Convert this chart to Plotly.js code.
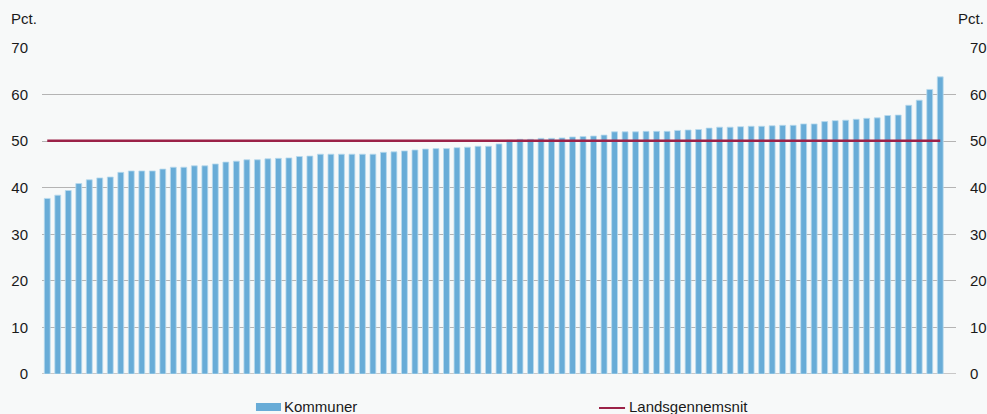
<!DOCTYPE html>
<html>
<head>
<meta charset="utf-8">
<script src="https://cdn.plot.ly/plotly-3.0.1.min.js"></script>
<style>html,body{margin:0;padding:0;background:#f7f9f9;}#chart{width:987px;height:414px;}</style>
</head>
<body>
<div id="chart"></div>
<script>
// Data (sorted municipality shares, pct.)
const kommunerValues = [
  37.7, 38.4, 39.4, 40.9, 41.7, 42.1, 42.3, 43.3, 43.6, 43.6, 43.6, 44.0, 44.4, 44.4, 44.7, 44.7, 45.1, 45.5, 45.7, 46.0, 46.0, 46.2,
  46.3, 46.4, 46.7, 46.8, 47.2, 47.2, 47.2, 47.2, 47.2, 47.2, 47.6, 47.7, 47.9, 48.1, 48.3, 48.4, 48.4, 48.6, 48.7, 48.9, 48.9, 49.4,
  50.2, 50.4, 50.4, 50.6, 50.6, 50.7, 50.9, 51.0, 51.1, 51.3, 52.0, 52.0, 52.0, 52.1, 52.1, 52.1, 52.3, 52.4, 52.5, 52.8, 53.0, 53.0,
  53.1, 53.2, 53.2, 53.3, 53.4, 53.4, 53.7, 53.7, 54.2, 54.4, 54.5, 54.7, 54.9, 55.0, 55.5, 55.6, 57.7, 58.8, 61.1, 63.8
];
const landsgennemsnit = 50.1;
const categories = kommunerValues.map((v, i) => i);
const avgValues = categories.map(() => landsgennemsnit);
const yTicks = [0, 10, 20, 30, 40, 50, 60, 70];
const seriesNames = ["Kommuner", "Landsgennemsnit"];

const barColor = "#68acd7";
const lineColor = "#9b2248";
const font = {family: "Liberation Sans, Arial, sans-serif", size: 15, color: "#1a1a1a"};

const traces = [
  {
    type: "bar", name: seriesNames[0], x: categories, y: kommunerValues,
    marker: {color: barColor, line: {color: "#b9daee", width: 0.8}},
    width: 0.56, showlegend: false, hoverinfo: "y"
  },
  {
    type: "scatter", mode: "lines", name: seriesNames[1], x: categories, y: avgValues,
    line: {color: lineColor, width: 2.5}, showlegend: false, hoverinfo: "y"
  },
  {
    type: "scatter", mode: "lines", x: [categories[0]], y: [landsgennemsnit], yaxis: "y2",
    showlegend: false, hoverinfo: "skip", line: {width: 0}
  }
];

const axisCommon = {
  range: [0, 70], tickvals: yTicks, ticktext: yTicks.map(String),
  showgrid: true, gridcolor: "#b4b4b4", gridwidth: 1,
  zeroline: false, showline: false, ticks: "", ticklen: 0,
  tickfont: font, fixedrange: true
};

const layout = {
  width: 987, height: 414,
  margin: {l: 42, r: 31, t: 48, b: 40, pad: 13},
  paper_bgcolor: "#f7f9f9", plot_bgcolor: "#f7f9f9",
  font: font,
  bargap: 0.45,
  xaxis: {range: [-0.5, 86.5], showticklabels: false, showgrid: false, zeroline: false, ticks: "", showline: false, fixedrange: true},
  yaxis: Object.assign({}, axisCommon, {side: "left"}),
  yaxis2: Object.assign({}, axisCommon, {side: "right", overlaying: "y", showgrid: false}),
  shapes: [
    {type: "line", xref: "paper", yref: "y", x0: 0, x1: 1, y0: 0, y1: 0, line: {color: "#c8c8c8", width: 2}, layer: "below"},
    {type: "rect", xref: "paper", yref: "paper", x0: 0.2341, x1: 0.2615, y0: -0.089, y1: -0.1135, fillcolor: barColor, line: {width: 0}},
    {type: "line", xref: "paper", yref: "paper", x0: 0.6094, x1: 0.6379, y0: -0.1043, y1: -0.1043, line: {color: lineColor, width: 2}}
  ],
  annotations: [
    {text: "Pct.", xref: "paper", yref: "paper", x: -0.036, y: 1.089, xanchor: "left", yanchor: "middle", showarrow: false, font: font},
    {text: "Pct.", xref: "paper", yref: "paper", x: 1.0, y: 1.089, xanchor: "left", yanchor: "middle", showarrow: false, font: font},
    {text: seriesNames[0], xref: "paper", yref: "paper", x: 0.2626, y: -0.099, xanchor: "left", yanchor: "middle", showarrow: false, font: font},
    {text: seriesNames[1], xref: "paper", yref: "paper", x: 0.6396, y: -0.099, xanchor: "left", yanchor: "middle", showarrow: false, font: font}
  ],
  showlegend: false
};

Plotly.newPlot("chart", traces, layout, {displayModeBar: false, staticPlot: true});
</script>
</body>
</html>
